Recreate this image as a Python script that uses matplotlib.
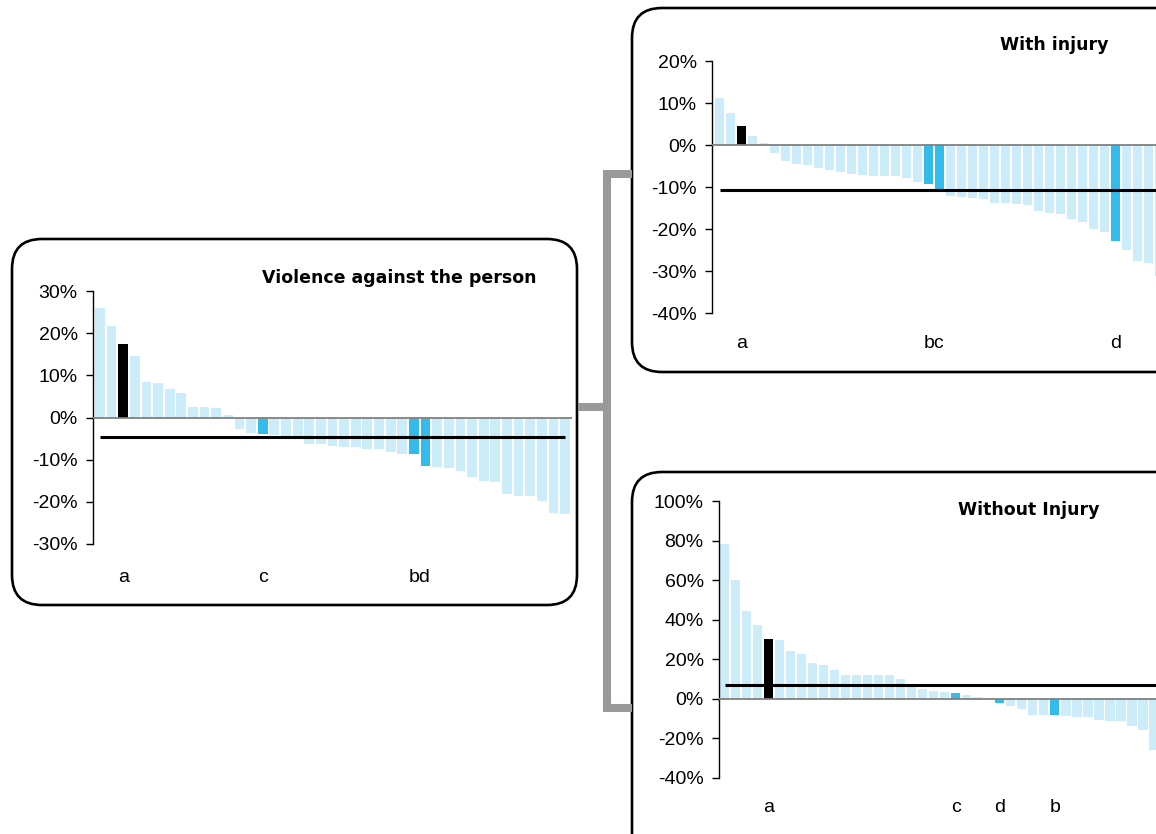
import matplotlib
matplotlib.use("Agg")
import matplotlib.pyplot as plt
from matplotlib.patches import FancyBboxPatch
from matplotlib.lines import Line2D
from matplotlib.ticker import PercentFormatter

plt.rcParams['font.family'] = ['Liberation Sans', 'DejaVu Sans']
plt.rcParams['axes.unicode_minus'] = False

# values in percent, ranked
vap_values = [26.0, 21.8, 17.5, 14.5, 8.4, 8.1, 6.7, 5.8, 2.5, 2.5, 2.3, 0.6,
              -2.7, -3.6, -3.8, -4.1, -4.3, -5.2, -6.2, -6.3, -6.7, -7.0, -7.0,
              -7.4, -7.4, -8.1, -8.6, -8.6, -11.4, -11.7, -11.9, -12.6, -14.0,
              -15.0, -15.2, -18.2, -18.5, -18.7, -19.9, -22.7, -22.9]
inj_values = [11.3, 7.7, 4.6, 2.2, 0.5, -1.9, -3.8, -4.6, -4.8, -5.5, -6.0,
              -6.5, -7.0, -7.2, -7.4, -7.4, -7.4, -7.9, -8.9, -9.4, -10.7,
              -12.2, -12.4, -12.6, -12.9, -13.8, -13.8, -14.1, -14.3, -15.7,
              -16.2, -16.5, -17.7, -18.4, -20.1, -20.6, -22.9, -24.9, -27.7,
              -28.0, -31.1]
noinj_values = [78.3, 60.1, 44.4, 37.4, 30.3, 29.8, 24.2, 22.7, 18.2, 17.2,
                14.6, 12.1, 12.1, 12.1, 12.1, 12.1, 10.1, 7.1, 5.1, 4.0, 3.5,
                3.0, 2.0, 1.0, 0.0, -2.0, -3.5, -5.1, -8.1, -8.1, -8.1, -8.6,
                -9.1, -9.1, -10.6, -11.1, -11.1, -13.6, -15.7, -25.8, -32.8]

vap_mean = -4.6
inj_mean = -10.7
noinj_mean = 7.2

# highlighted bars: black = "a", blue = others
vap_black, vap_blue = 2, [14, 27, 28]
inj_black, inj_blue = 2, [19, 20, 36]
noinj_black, noinj_blue = 4, [21, 25, 30]

vap_labels, vap_label_pos = ['a', 'c', 'bd'], [2, 14, 27.5]
inj_labels, inj_label_pos = ['a', 'bc', 'd'], [2, 19.5, 36]
noinj_labels, noinj_label_pos = ['a', 'c', 'd', 'b'], [4, 21, 25, 30]

LIGHT = '#CCECF9'
BLUE = '#33BBEC'
W, H = 1156, 834


def px_axes(fig, x0, y0, x1, y1):
    # pixel box (top-left origin) -> axes
    return fig.add_axes([x0 / W, 1 - y1 / H, (x1 - x0) / W, (y1 - y0) / H])


def draw_panel(ax, values, mean, black, blue, labels, label_pos, ylim, yticks,
               xlim, title, title_xy, label_pad):
    colors = [LIGHT] * len(values)
    colors[black] = 'black'
    for i in blue:
        colors[i] = BLUE
    xs = list(range(len(values)))
    ax.bar(xs, [v / 100 for v in values], width=0.84, color=colors, zorder=1)
    ax.axhline(0, color='#808080', lw=1.3, zorder=3)
    ax.hlines(mean / 100, 0, len(values) - 1, color='black', lw=2.2, zorder=4)
    ax.set_ylim(*ylim)
    ax.set_xlim(*xlim)
    ax.set_yticks(yticks)
    ax.yaxis.set_major_formatter(PercentFormatter(1.0, decimals=0))
    ax.set_xticks(label_pos)
    ax.set_xticklabels(labels)
    ax.tick_params(axis='x', length=0, pad=label_pad, labelsize=14)
    ax.tick_params(axis='y', length=5, width=1, pad=6, labelsize=14,
                   direction='out')
    for s in ['top', 'right', 'bottom']:
        ax.spines[s].set_visible(False)
    ax.spines['left'].set_linewidth(1)
    ax.patch.set_alpha(0)
    fig.text(title_xy[0] / W, 1 - title_xy[1] / H, title, ha='right',
             va='center', fontsize=12.5, fontweight='bold',
             family='DejaVu Sans')


fig = plt.figure(figsize=(W / 100, H / 100), dpi=100)

# rounded panel frames, in inches so the corners stay round
for (x0, y0, x1, y1) in [(12, 239, 577, 605), (632, 8, 1220, 372),
                         (632, 472, 1220, 900)]:
    box = FancyBboxPatch((x0 / 100, (H - y1) / 100), (x1 - x0) / 100,
                         (y1 - y0) / 100, boxstyle='round,pad=0,rounding_size=0.3',
                         transform=fig.dpi_scale_trans, fill=False,
                         edgecolor='black', lw=1.9, zorder=0)
    fig.add_artist(box)

# grey bracket connecting the panels
def px_line(xs, ys):
    ln = Line2D([x / 100 for x in xs], [(H - y) / 100 for y in ys],
                transform=fig.dpi_scale_trans, color='#999999', lw=5.8,
                solid_joinstyle='miter', solid_capstyle='butt')
    fig.add_artist(ln)

px_line([632, 607, 607, 632], [174, 174, 708, 708])
px_line([578, 607], [407, 407])

ax1 = px_axes(fig, 93, 291, 572, 544)
draw_panel(ax1, vap_values, vap_mean, vap_black, vap_blue, vap_labels,
           vap_label_pos, (-0.3, 0.3), [-0.3, -0.2, -0.1, 0, 0.1, 0.2, 0.3],
           (-0.6, 40.6), 'Violence against the person', (537, 278), 18)

ax2 = px_axes(fig, 712, 61, 1167, 313)
draw_panel(ax2, inj_values, inj_mean, inj_black, inj_blue, inj_labels,
           inj_label_pos, (-0.4, 0.2), [-0.4, -0.3, -0.2, -0.1, 0, 0.1, 0.2],
           (-0.7, 40.7), 'With injury', (1108, 45), 16)

ax3 = px_axes(fig, 719, 501, 1176, 778)
draw_panel(ax3, noinj_values, noinj_mean, noinj_black, noinj_blue, noinj_labels,
           noinj_label_pos, (-0.4, 1.0), [-0.4, -0.2, 0, 0.2, 0.4, 0.6, 0.8, 1.0],
           (-0.5, 41.0), 'Without Injury', (1100, 510), 15)

fig.savefig('out.png', dpi=100)
